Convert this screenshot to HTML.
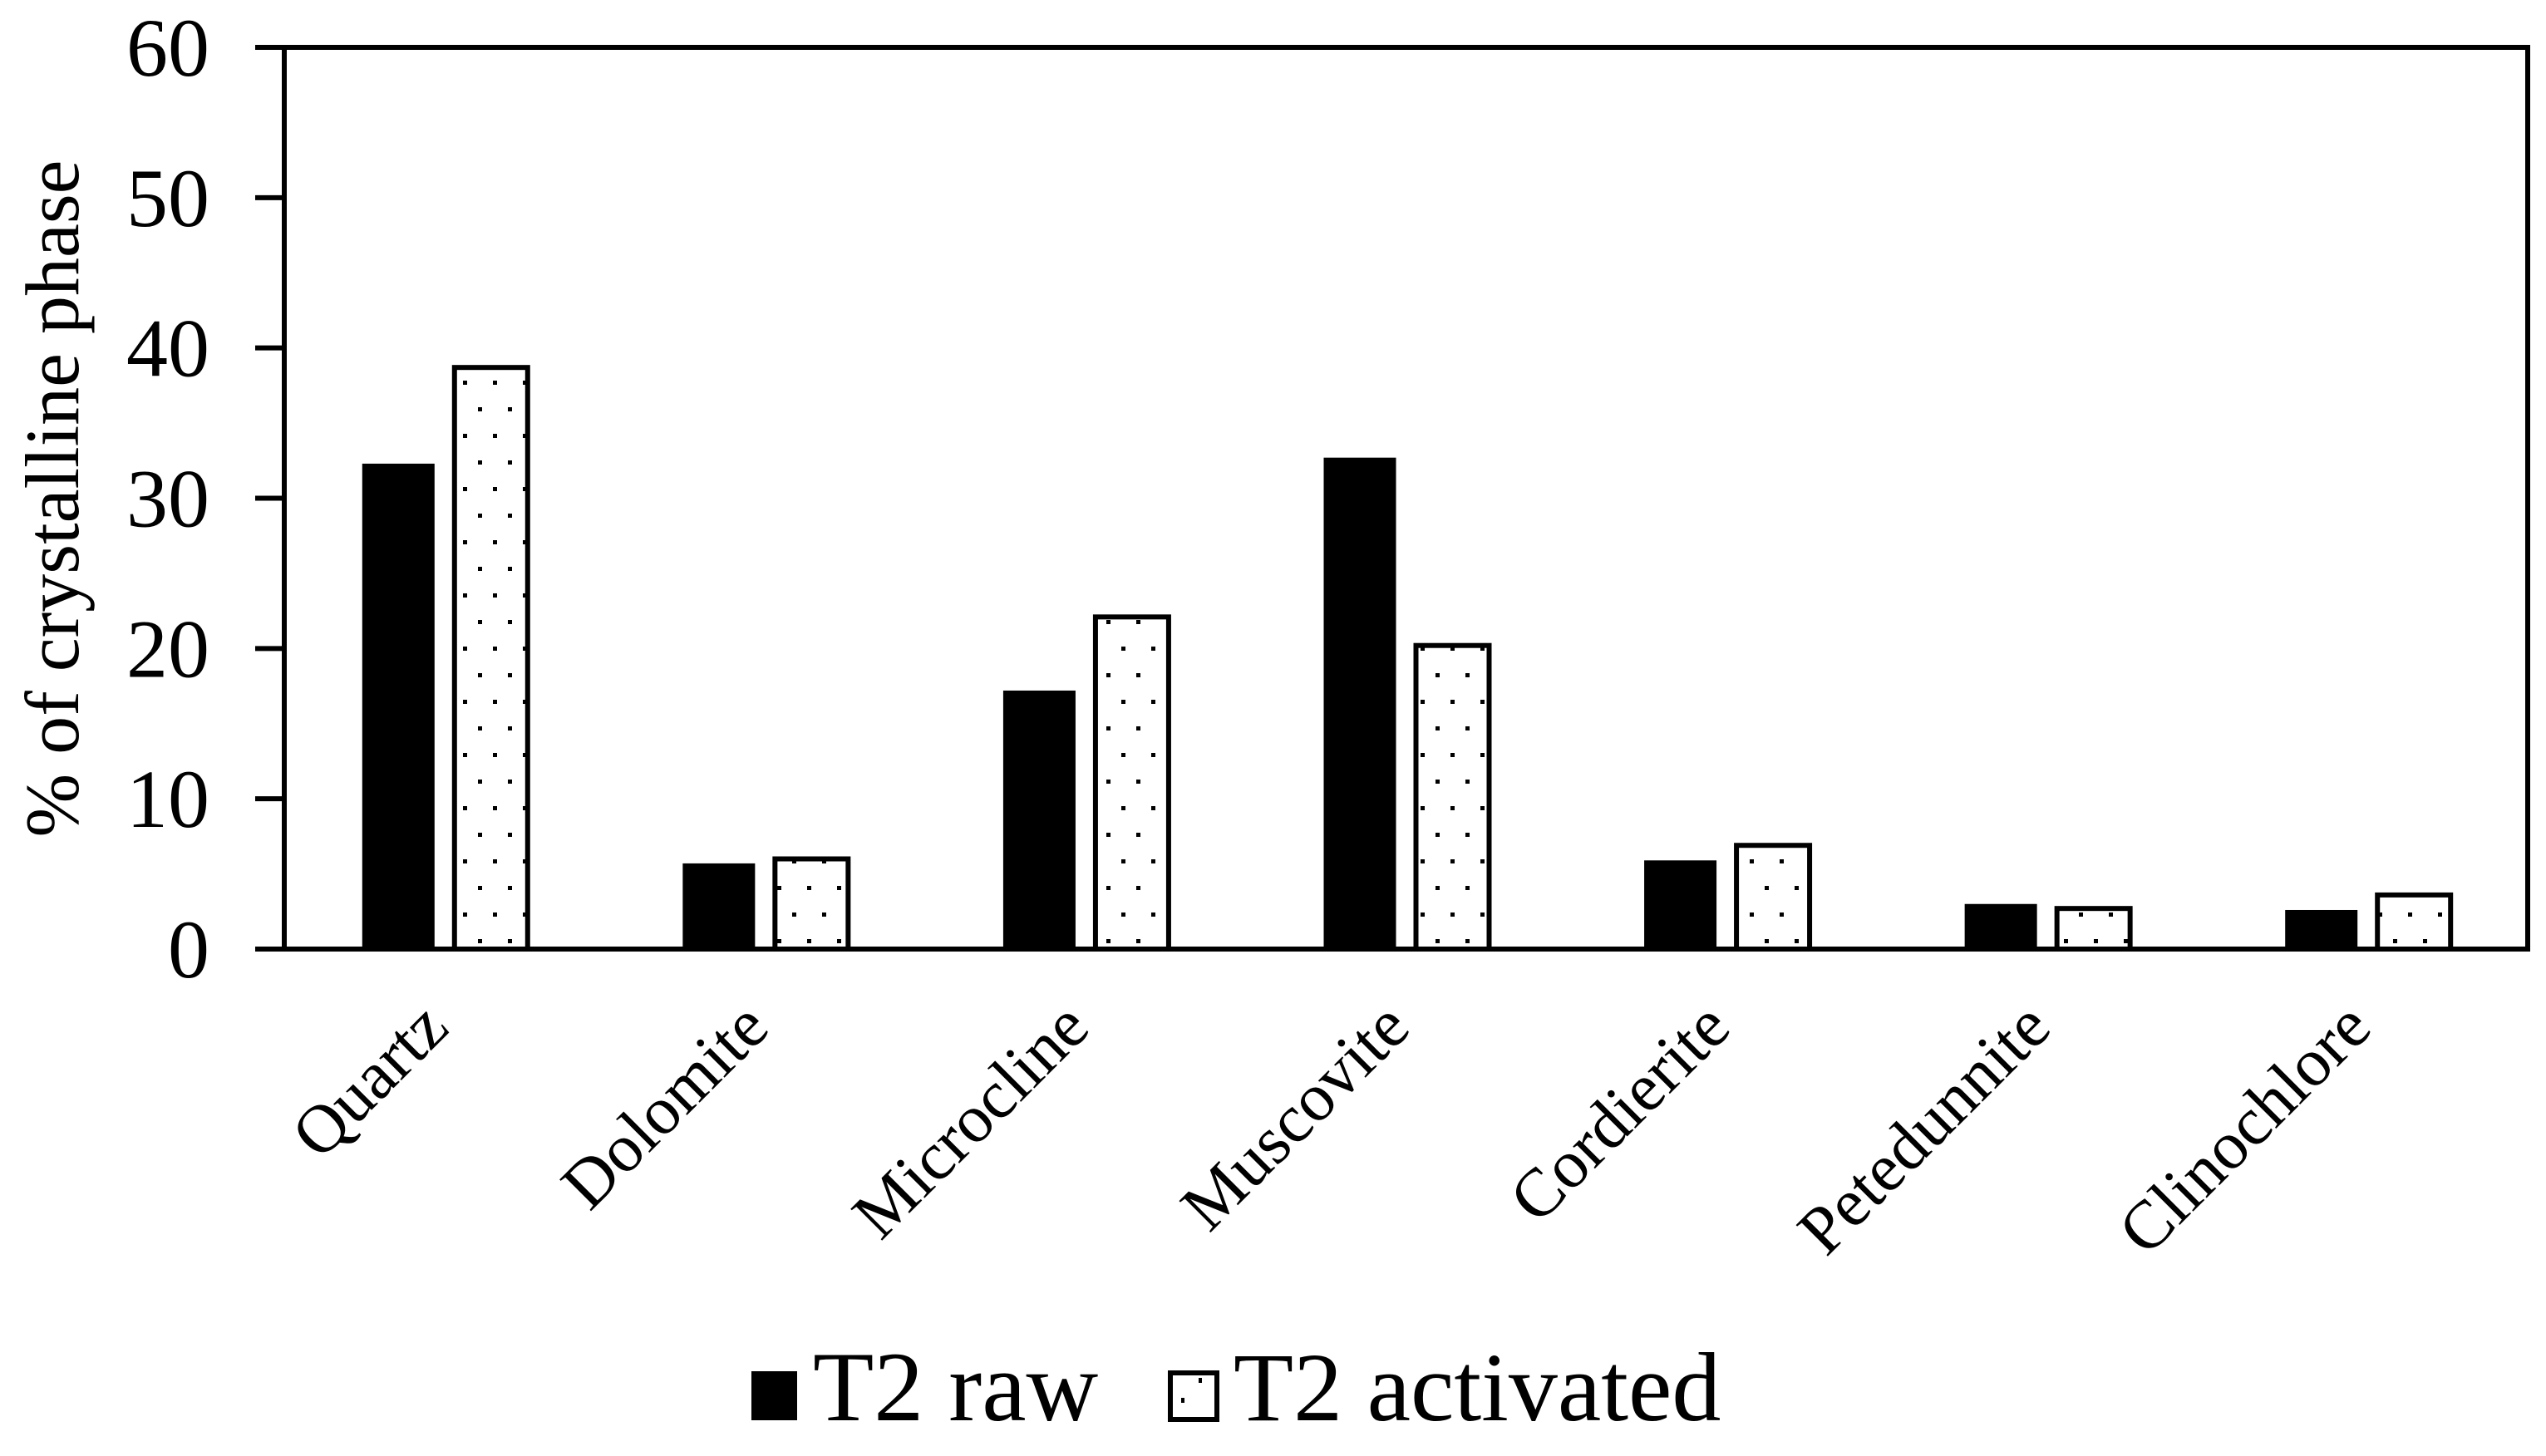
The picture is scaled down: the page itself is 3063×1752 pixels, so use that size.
<!DOCTYPE html>
<html><head><meta charset="utf-8"><style>
html,body{margin:0;padding:0;background:#fff}
svg{display:block}
text{font-family:"Liberation Serif",serif;fill:#000}
</style></head><body>
<svg id="chart" width="3063" height="1752" viewBox="0 0 3063 1752" xmlns="http://www.w3.org/2000/svg">
<defs>
<pattern id="dots" patternUnits="userSpaceOnUse" width="36" height="64" x="545" y="0">
<rect x="12" y="10" width="5" height="5" fill="#000"/>
<rect x="30" y="42" width="5" height="5" fill="#000"/>
</pattern>
</defs>
<g id="plot"></g>
</svg>
<script>
const categories = ["Quartz","Dolomite","Microcline","Muscovite","Cordierite","Petedunnite","Clinochlore"];
const rawValues = [32.3, 5.7, 17.2, 32.7, 5.9, 3.0, 2.6];
const activatedValues = [38.7, 6.0, 22.1, 20.2, 6.9, 2.7, 3.6];
const yTicks = [0, 10, 20, 30, 40, 50, 60];
const seriesNames = ["T2 raw", "T2 activated"];

const NS = "http://www.w3.org/2000/svg";
const g = document.getElementById("plot");
const L = 342, R = 3041, T = 57, B = 1142, yMax = 60;
const y = v => B - (v / yMax) * (B - T);
const groupW = (R - L) / categories.length;
const xc = i => L + groupW * (i + 0.5);
function mk(tag, attrs, parent) {
  const e = document.createElementNS(NS, tag);
  for (const k in attrs) e.setAttribute(k, attrs[k]);
  (parent || g).appendChild(e);
  return e;
}
categories.forEach((c, i) => {
  const cx = xc(i);
  const r = mk("rect", {x: cx - 99, y: y(rawValues[i]), width: 87, height: B - y(rawValues[i]), fill: "#000"});
  
  
  const a = mk("rect", {x: cx + 12, y: y(activatedValues[i]), width: 88, height: B - y(activatedValues[i]), fill: "url(#dots)", stroke: "#000", "stroke-width": 6});
  
  
  const t = mk("text", {x: cx + 8, y: 1240, "font-size": 82, "text-anchor": "end", transform: `rotate(-45 ${cx + 8} 1240)`});
  t.textContent = c;
  
  
});
const f = mk("rect", {x: L, y: T, width: R - L, height: B - T, fill: "none", stroke: "#000", "stroke-width": 6});


yTicks.forEach(v => {
  const l = mk("line", {x1: 307, x2: L, y1: y(v), y2: y(v), stroke: "#000", "stroke-width": 6});
  
  
  const t = mk("text", {x: 252, y: y(v) + 34, "font-size": 100, "text-anchor": "end"});
  t.textContent = v;
  
  
});
const yt = mk("text", {x: 94, y: 600, "font-size": 92, "text-anchor": "middle", transform: "rotate(-90 94 600)"});
yt.textContent = "% of crystalline phase";


const lg = mk("g", {});


const s1 = mk("rect", {x: 904, y: 1650, width: 55, height: 59, fill: "#000"}, lg);


const t1 = mk("text", {x: 978, y: 1709, "font-size": 120}, lg);
t1.textContent = seriesNames[0];


const s2 = mk("rect", {x: 1408, y: 1652, width: 56, height: 56, fill: "#fff", stroke: "#000", "stroke-width": 6}, lg);


mk("rect", {x: 1421, y: 1682, width: 4, height: 6, fill: "#000"}, lg);
mk("rect", {x: 1442, y: 1658, width: 4, height: 6, fill: "#000"}, lg);
const t2 = mk("text", {x: 1484, y: 1709, "font-size": 118}, lg);
t2.textContent = seriesNames[1];


</script>
</body></html>
